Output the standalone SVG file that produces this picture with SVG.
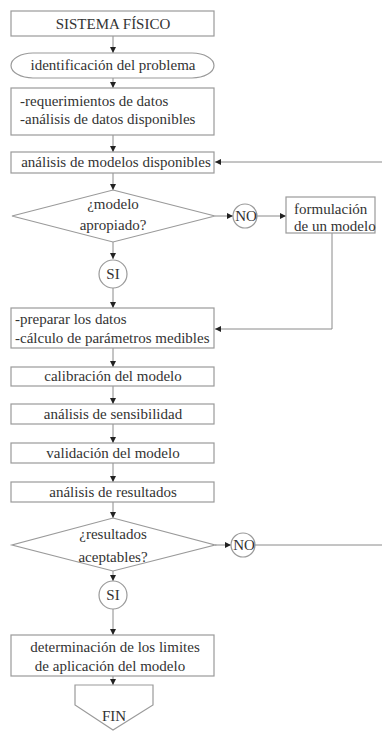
<svg xmlns="http://www.w3.org/2000/svg" width="382" height="731" viewBox="0 0 382 731">
<style>
.s{fill:#fff;stroke:#9a9a9a;stroke-width:1.2}
.t{font-family:"Liberation Serif","Times New Roman","DejaVu Serif",serif;font-size:15px;fill:#333}
.m{text-anchor:middle}
.c{fill:none;stroke:#8a8a8a;stroke-width:1}
</style>
<defs>
<marker id="a" viewBox="0 0 10 10" refX="10" refY="5" markerWidth="6" markerHeight="6" orient="auto" markerUnits="userSpaceOnUse">
<path d="M0,0L10,5L0,10z" fill="#222"/>
</marker>
</defs>
<rect width="382" height="731" fill="#fff"/>
<g id="connectors">
<path class="c" d="M113,36V53" marker-end="url(#a)"/>
<path class="c" d="M113,78V88" marker-end="url(#a)"/>
<path class="c" d="M113,135V152" marker-end="url(#a)"/>
<path class="c" d="M382,162H215" marker-end="url(#a)"/>
<path class="c" d="M113,173V190" marker-end="url(#a)"/>
<path class="c" d="M215,216H233" marker-end="url(#a)"/>
<path class="c" d="M257,216H286" marker-end="url(#a)"/>
<path class="c" d="M332,233V329H215" marker-end="url(#a)"/>
<path class="c" d="M113,242V259" marker-end="url(#a)"/>
<path class="c" d="M113,288V308" marker-end="url(#a)"/>
<path class="c" d="M113,348V367" marker-end="url(#a)"/>
<path class="c" d="M113,386V404" marker-end="url(#a)"/>
<path class="c" d="M113,424V443" marker-end="url(#a)"/>
<path class="c" d="M113,463V482" marker-end="url(#a)"/>
<path class="c" d="M113,502V518" marker-end="url(#a)"/>
<path class="c" d="M215,545H231" marker-end="url(#a)"/>
<path class="c" d="M255,545H382"/>
<path class="c" d="M113,571V581" marker-end="url(#a)"/>
<path class="c" d="M113,609V635" marker-end="url(#a)"/>
<path class="c" d="M113,676V685" marker-end="url(#a)"/>
</g>
<g id="sistema"><rect class="s" x="11" y="11" width="203" height="25"/><text class="t m" x="113" y="29">SISTEMA FÍSICO</text></g>
<g id="identificacion"><rect class="s" x="11" y="53" width="203" height="25" rx="22" ry="12.5"/><text class="t m" x="113" y="70">identificación del problema</text></g>
<g id="requerimientos"><rect class="s" x="11" y="88" width="203" height="47"/><text class="t" x="20" y="106">-requerimientos de datos</text><text class="t" x="20" y="124">-análisis de datos disponibles</text></g>
<g id="analisis-modelos"><rect class="s" x="11" y="152" width="203" height="21"/><text class="t m" x="116" y="167">análisis de modelos disponibles</text></g>
<g id="modelo-apropiado"><path class="s" d="M113,190L215,216L113,242L12,216Z"/><text class="t m" x="113" y="209">¿modelo</text><text class="t m" x="113" y="230">apropiado?</text></g>
<g id="no1"><circle class="s" cx="245" cy="216" r="12"/><text class="t m" x="246" y="221">NO</text></g>
<g id="formulacion"><rect class="s" x="286" y="197" width="89" height="36"/><text class="t" x="294" y="214">formulación</text><text class="t" x="294" y="231">de un modelo</text></g>
<g id="si1"><circle class="s" cx="113" cy="274" r="14"/><text class="t m" x="113" y="279">SI</text></g>
<g id="preparar"><rect class="s" x="11" y="308" width="203" height="40"/><text class="t" x="15" y="324">-preparar los datos</text><text class="t" x="15" y="343">-cálculo de parámetros medibles</text></g>
<g id="calibracion"><rect class="s" x="11" y="367" width="203" height="19"/><text class="t m" x="113" y="381">calibración del modelo</text></g>
<g id="sensibilidad"><rect class="s" x="11" y="404" width="203" height="20"/><text class="t m" x="113" y="419">análisis de sensibilidad</text></g>
<g id="validacion"><rect class="s" x="11" y="443" width="203" height="20"/><text class="t m" x="113" y="458">validación del modelo</text></g>
<g id="resultados"><rect class="s" x="11" y="482" width="203" height="20"/><text class="t m" x="113" y="497">análisis de resultados</text></g>
<g id="aceptables"><path class="s" d="M113,518L215,545L113,571L12,545Z"/><text class="t m" x="113" y="539">¿resultados</text><text class="t m" x="113" y="562">aceptables?</text></g>
<g id="no2"><circle class="s" cx="243" cy="545" r="12"/><text class="t m" x="244" y="550">NO</text></g>
<g id="si2"><circle class="s" cx="113" cy="595" r="14"/><text class="t m" x="113" y="600">SI</text></g>
<g id="limites"><rect class="s" x="11" y="635" width="203" height="41"/><text class="t m" x="115" y="652">determinación de los limites</text><text class="t m" x="110" y="671">de aplicación del modelo</text></g>
<g id="fin"><path class="s" d="M75,685H153V705L113,730L75,705Z"/><text class="t m" x="114" y="721">FIN</text></g>
</svg>
